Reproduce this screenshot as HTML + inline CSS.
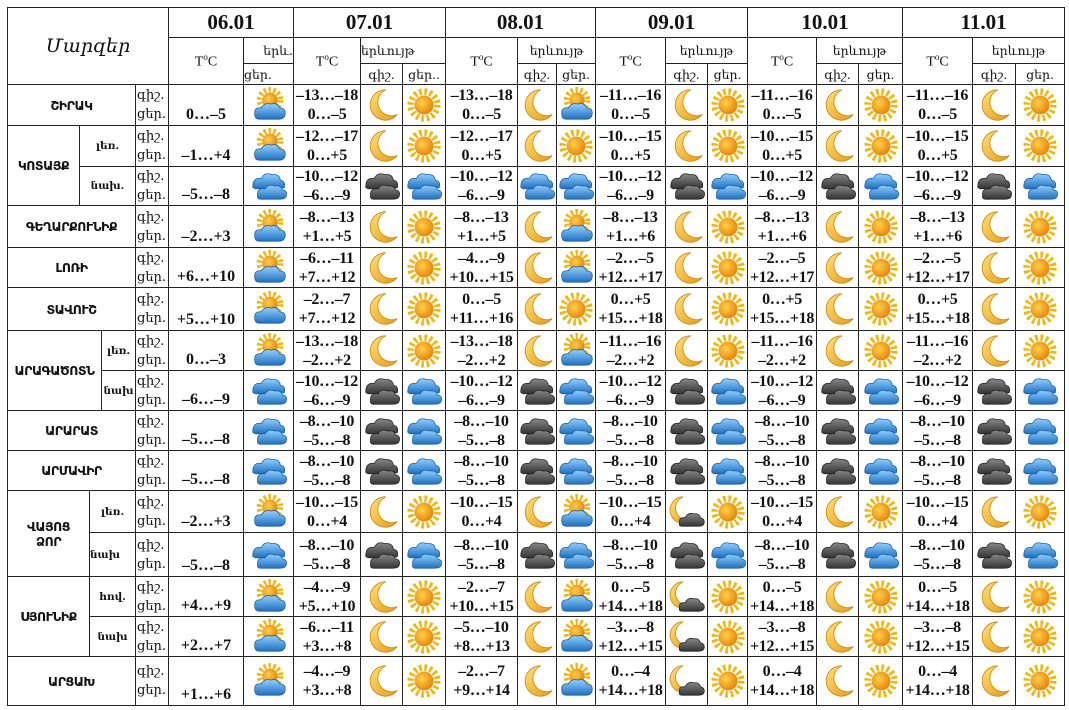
<!DOCTYPE html>
<html><head><meta charset="utf-8">
<style>
html,body{margin:0;padding:0;background:#fff;width:1069px;height:710px;overflow:hidden}
table{position:absolute;left:7px;top:7px;border-collapse:collapse;table-layout:fixed;width:1058px;font-family:"Liberation Serif","DejaVu Serif",serif;color:#111}
td{border:1px solid #222;padding:0;text-align:center;vertical-align:middle;overflow:hidden;white-space:nowrap}
.d{font-size:21px;font-weight:bold}
.h{font-size:14px}
.hs{font-size:12.5px;font-family:"DejaVu Serif",serif}
.m{font-size:19px;font-weight:bold;font-style:italic;font-family:"DejaVu Serif",serif}
.r{font-size:12.5px;font-weight:bold;font-family:"DejaVu Sans",sans-serif;letter-spacing:-0.5px}
.s{font-size:10.5px;font-weight:bold;font-family:"DejaVu Serif",serif}
.l{font-size:13px;text-align:left;line-height:19px;font-family:"DejaVu Serif",serif;padding-left:1px}
.t{font-size:16px;font-weight:bold;line-height:19px;letter-spacing:-0.3px}
.t1{font-size:16px;font-weight:bold;vertical-align:bottom;padding-bottom:1px}
.i svg{width:38px;height:38px;display:block;margin:auto}
</style></head><body>
<svg width="0" height="0" style="position:absolute">
<defs>
<radialGradient id="gs" cx="0.4" cy="0.4" r="0.7"><stop offset="0" stop-color="#ffd04a"/><stop offset="1" stop-color="#e67a00"/></radialGradient>
<linearGradient id="gm" x1="0" y1="0" x2="1" y2="1"><stop offset="0" stop-color="#ffe27a"/><stop offset="1" stop-color="#e79a10"/></linearGradient>
<linearGradient id="gc" x1="0" y1="0" x2="0" y2="1"><stop offset="0" stop-color="#8fd0ff"/><stop offset="1" stop-color="#1f6fc0"/></linearGradient>
<linearGradient id="gd" x1="0" y1="0" x2="0" y2="1"><stop offset="0" stop-color="#888"/><stop offset="1" stop-color="#333"/></linearGradient>
<symbol id="sun" viewBox="0 0 40 40"><circle cx="20" cy="20" r="14" fill="none" stroke="#f5b400" stroke-width="7" stroke-dasharray="2.6 2.9"/><circle cx="20" cy="20" r="10" fill="url(#gs)"/></symbol>
<symbol id="moon" viewBox="0 0 40 40"><path d="M24 4 A16 16 0 1 0 36 30 A13 13 0 1 1 24 4Z" fill="url(#gm)" stroke="#c98400" stroke-width="0.8"/></symbol>
<symbol id="cl" viewBox="0 0 40 40"><g fill="url(#gc)" stroke="#1a5fa8" stroke-width="0.8"><path d="M3 20 Q3 11 12 12 Q15 5 23 8 Q31 7 32 14 Q38 15 36 22 L6 23 Q2 22 3 20Z"/><path d="M8 30 Q7 22 16 23 Q19 17 26 20 Q33 19 34 24 Q40 25 38 31 Q37 34 30 34 L12 34 Q7 34 8 30Z"/></g></symbol>
<symbol id="dk" viewBox="0 0 40 40"><g fill="url(#gd)" stroke="#222" stroke-width="0.8"><path d="M3 20 Q3 11 12 12 Q15 5 23 8 Q31 7 32 14 Q38 15 36 22 L6 23 Q2 22 3 20Z"/><path d="M8 30 Q7 22 16 23 Q19 17 26 20 Q33 19 34 24 Q40 25 38 31 Q37 34 30 34 L12 34 Q7 34 8 30Z"/></g></symbol>
<symbol id="pc" viewBox="0 0 40 40"><circle cx="21" cy="15" r="11" fill="none" stroke="#f5b400" stroke-width="6" stroke-dasharray="2.4 2.6"/><circle cx="21" cy="15" r="8" fill="url(#gs)"/><path d="M5 30 Q4 22 12 23 Q15 17 22 19 Q29 17 31 23 Q38 23 37 30 Q36 35 30 35 L10 35 Q5 35 5 30Z" fill="url(#gc)" stroke="#1a5fa8" stroke-width="0.8"/></symbol>
<symbol id="mc" viewBox="0 0 40 40"><path d="M16 4 A14 14 0 1 0 26 28 A11 11 0 1 1 16 4Z" fill="url(#gm)" stroke="#c98400" stroke-width="0.8"/><path d="M12 32 Q11 25 18 26 Q21 20 27 22 Q33 21 34 26 Q39 27 38 32 Q37 35 32 35 L15 35 Q11 35 12 32Z" fill="url(#gd)" stroke="#222" stroke-width="0.8"/></symbol>
</defs></svg>
<table>
<colgroup>
<col style="width:72px"><col style="width:10px"><col style="width:12px"><col style="width:34px"><col style="width:33px">
<col style="width:75px"><col style="width:50px">
<col style="width:67px"><col style="width:42px"><col style="width:43px">
<col style="width:72px"><col style="width:39px"><col style="width:39px">
<col style="width:70px"><col style="width:42px"><col style="width:40px">
<col style="width:69px"><col style="width:42px"><col style="width:44px">
<col style="width:70px"><col style="width:43px"><col style="width:49px">
</colgroup>
<tr style="height:30px"><td class="m" rowspan="3" colspan="5" style="font-weight:normal">Մարզեր</td><td class="d" colspan="2">06.01</td><td class="d" colspan="3">07.01</td><td class="d" colspan="3">08.01</td><td class="d" colspan="3">09.01</td><td class="d" colspan="3">10.01</td><td class="d" colspan="3">11.01</td></tr>
<tr style="height:26px"><td class="h" rowspan="2">T<sup style="font-size:9px">o</sup>C</td><td class="hs" style="text-align:right">երև.</td><td class="h" rowspan="2">T<sup style="font-size:9px">o</sup>C</td><td class="hs" colspan="2" style="text-align:left">երևույթ</td><td class="h" rowspan="2">T<sup style="font-size:9px">o</sup>C</td><td class="hs" colspan="2">երևույթ</td><td class="h" rowspan="2">T<sup style="font-size:9px">o</sup>C</td><td class="hs" colspan="2">երևույթ</td><td class="h" rowspan="2">T<sup style="font-size:9px">o</sup>C</td><td class="hs" colspan="2">երևույթ</td><td class="h" rowspan="2">T<sup style="font-size:9px">o</sup>C</td><td class="hs" colspan="2">երևույթ</td></tr>
<tr style="height:21px"><td class="hs" style="text-align:left">ցեր.</td><td class="hs">գիշ.</td><td class="hs">ցեր..</td><td class="hs">գիշ.</td><td class="hs">ցեր.</td><td class="hs">գիշ.</td><td class="hs">ցեր.</td><td class="hs">գիշ.</td><td class="hs">ցեր.</td><td class="hs">գիշ.</td><td class="hs">ցեր.</td></tr>

<tr style="height:41px"><td class="r" colspan="4">ՇԻՐԱԿ</td><td class="l">գիշ.<br>ցեր.</td><td class="t1">0…–5</td><td class="i"><svg><use href="#pc"/></svg></td><td class="t">–13…–18<br>0…–5</td><td class="i"><svg><use href="#moon"/></svg></td><td class="i"><svg><use href="#sun"/></svg></td><td class="t">–13…–18<br>0…–5</td><td class="i"><svg><use href="#moon"/></svg></td><td class="i"><svg><use href="#pc"/></svg></td><td class="t">–11…–16<br>0…–5</td><td class="i"><svg><use href="#moon"/></svg></td><td class="i"><svg><use href="#sun"/></svg></td><td class="t">–11…–16<br>0…–5</td><td class="i"><svg><use href="#moon"/></svg></td><td class="i"><svg><use href="#sun"/></svg></td><td class="t">–11…–16<br>0…–5</td><td class="i"><svg><use href="#moon"/></svg></td><td class="i"><svg><use href="#sun"/></svg></td></tr>

<tr style="height:41px"><td class="r" rowspan="2">ԿՈՏԱՅՔ</td><td class="s" colspan="3">լեռ.</td><td class="l">գիշ.<br>ցեր.</td><td class="t1">–1…+4</td><td class="i"><svg><use href="#pc"/></svg></td><td class="t">–12…–17<br>0…+5</td><td class="i"><svg><use href="#moon"/></svg></td><td class="i"><svg><use href="#sun"/></svg></td><td class="t">–12…–17<br>0…+5</td><td class="i"><svg><use href="#moon"/></svg></td><td class="i"><svg><use href="#sun"/></svg></td><td class="t">–10…–15<br>0…+5</td><td class="i"><svg><use href="#moon"/></svg></td><td class="i"><svg><use href="#sun"/></svg></td><td class="t">–10…–15<br>0…+5</td><td class="i"><svg><use href="#moon"/></svg></td><td class="i"><svg><use href="#sun"/></svg></td><td class="t">–10…–15<br>0…+5</td><td class="i"><svg><use href="#moon"/></svg></td><td class="i"><svg><use href="#sun"/></svg></td></tr>
<tr style="height:39px"><td class="s" colspan="3">նախ.</td><td class="l">գիշ.<br>ցեր.</td><td class="t1">–5…–8</td><td class="i"><svg><use href="#cl"/></svg></td><td class="t">–10…–12<br>–6…–9</td><td class="i"><svg><use href="#dk"/></svg></td><td class="i"><svg><use href="#cl"/></svg></td><td class="t">–10…–12<br>–6…–9</td><td class="i"><svg><use href="#cl"/></svg></td><td class="i"><svg><use href="#cl"/></svg></td><td class="t">–10…–12<br>–6…–9</td><td class="i"><svg><use href="#dk"/></svg></td><td class="i"><svg><use href="#cl"/></svg></td><td class="t">–10…–12<br>–6…–9</td><td class="i"><svg><use href="#dk"/></svg></td><td class="i"><svg><use href="#cl"/></svg></td><td class="t">–10…–12<br>–6…–9</td><td class="i"><svg><use href="#dk"/></svg></td><td class="i"><svg><use href="#cl"/></svg></td></tr>

<tr style="height:42px"><td class="r" colspan="4">ԳԵՂԱՐՔՈՒՆԻՔ</td><td class="l">գիշ.<br>ցեր.</td><td class="t1">–2…+3</td><td class="i"><svg><use href="#pc"/></svg></td><td class="t">–8…–13<br>+1…+5</td><td class="i"><svg><use href="#moon"/></svg></td><td class="i"><svg><use href="#sun"/></svg></td><td class="t">–8…–13<br>+1…+5</td><td class="i"><svg><use href="#moon"/></svg></td><td class="i"><svg><use href="#pc"/></svg></td><td class="t">–8…–13<br>+1…+6</td><td class="i"><svg><use href="#moon"/></svg></td><td class="i"><svg><use href="#sun"/></svg></td><td class="t">–8…–13<br>+1…+6</td><td class="i"><svg><use href="#moon"/></svg></td><td class="i"><svg><use href="#sun"/></svg></td><td class="t">–8…–13<br>+1…+6</td><td class="i"><svg><use href="#moon"/></svg></td><td class="i"><svg><use href="#sun"/></svg></td></tr>

<tr style="height:40px"><td class="r" colspan="4">ԼՈՌԻ</td><td class="l">գիշ.<br>ցեր.</td><td class="t1">+6…+10</td><td class="i"><svg><use href="#pc"/></svg></td><td class="t">–6…–11<br>+7…+12</td><td class="i"><svg><use href="#moon"/></svg></td><td class="i"><svg><use href="#sun"/></svg></td><td class="t">–4…–9<br>+10…+15</td><td class="i"><svg><use href="#moon"/></svg></td><td class="i"><svg><use href="#pc"/></svg></td><td class="t">–2…–5<br>+12…+17</td><td class="i"><svg><use href="#moon"/></svg></td><td class="i"><svg><use href="#sun"/></svg></td><td class="t">–2…–5<br>+12…+17</td><td class="i"><svg><use href="#moon"/></svg></td><td class="i"><svg><use href="#sun"/></svg></td><td class="t">–2…–5<br>+12…+17</td><td class="i"><svg><use href="#moon"/></svg></td><td class="i"><svg><use href="#sun"/></svg></td></tr>

<tr style="height:43px"><td class="r" colspan="4">ՏԱՎՈՒՇ</td><td class="l">գիշ.<br>ցեր.</td><td class="t1">+5…+10</td><td class="i"><svg><use href="#pc"/></svg></td><td class="t">–2…–7<br>+7…+12</td><td class="i"><svg><use href="#moon"/></svg></td><td class="i"><svg><use href="#sun"/></svg></td><td class="t">0…–5<br>+11…+16</td><td class="i"><svg><use href="#moon"/></svg></td><td class="i"><svg><use href="#sun"/></svg></td><td class="t">0…+5<br>+15…+18</td><td class="i"><svg><use href="#moon"/></svg></td><td class="i"><svg><use href="#sun"/></svg></td><td class="t">0…+5<br>+15…+18</td><td class="i"><svg><use href="#moon"/></svg></td><td class="i"><svg><use href="#sun"/></svg></td><td class="t">0…+5<br>+15…+18</td><td class="i"><svg><use href="#moon"/></svg></td><td class="i"><svg><use href="#sun"/></svg></td></tr>

<tr style="height:40px"><td class="r" rowspan="2" colspan="3">ԱՐԱԳԱԾՈՏՆ</td><td class="s">լեռ.</td><td class="l">գիշ.<br>ցեր.</td><td class="t1">0…–3</td><td class="i"><svg><use href="#pc"/></svg></td><td class="t">–13…–18<br>–2…+2</td><td class="i"><svg><use href="#moon"/></svg></td><td class="i"><svg><use href="#sun"/></svg></td><td class="t">–13…–18<br>–2…+2</td><td class="i"><svg><use href="#moon"/></svg></td><td class="i"><svg><use href="#pc"/></svg></td><td class="t">–11…–16<br>–2…+2</td><td class="i"><svg><use href="#moon"/></svg></td><td class="i"><svg><use href="#sun"/></svg></td><td class="t">–11…–16<br>–2…+2</td><td class="i"><svg><use href="#moon"/></svg></td><td class="i"><svg><use href="#sun"/></svg></td><td class="t">–11…–16<br>–2…+2</td><td class="i"><svg><use href="#moon"/></svg></td><td class="i"><svg><use href="#sun"/></svg></td></tr>
<tr style="height:40px"><td class="s">նախ</td><td class="l">գիշ.<br>ցեր.</td><td class="t1">–6…–9</td><td class="i"><svg><use href="#cl"/></svg></td><td class="t">–10…–12<br>–6…–9</td><td class="i"><svg><use href="#dk"/></svg></td><td class="i"><svg><use href="#cl"/></svg></td><td class="t">–10…–12<br>–6…–9</td><td class="i"><svg><use href="#dk"/></svg></td><td class="i"><svg><use href="#cl"/></svg></td><td class="t">–10…–12<br>–6…–9</td><td class="i"><svg><use href="#dk"/></svg></td><td class="i"><svg><use href="#cl"/></svg></td><td class="t">–10…–12<br>–6…–9</td><td class="i"><svg><use href="#dk"/></svg></td><td class="i"><svg><use href="#cl"/></svg></td><td class="t">–10…–12<br>–6…–9</td><td class="i"><svg><use href="#dk"/></svg></td><td class="i"><svg><use href="#cl"/></svg></td></tr>

<tr style="height:40px"><td class="r" colspan="4">ԱՐԱՐԱՏ</td><td class="l">գիշ.<br>ցեր.</td><td class="t1">–5…–8</td><td class="i"><svg><use href="#cl"/></svg></td><td class="t">–8…–10<br>–5…–8</td><td class="i"><svg><use href="#dk"/></svg></td><td class="i"><svg><use href="#cl"/></svg></td><td class="t">–8…–10<br>–5…–8</td><td class="i"><svg><use href="#dk"/></svg></td><td class="i"><svg><use href="#cl"/></svg></td><td class="t">–8…–10<br>–5…–8</td><td class="i"><svg><use href="#dk"/></svg></td><td class="i"><svg><use href="#cl"/></svg></td><td class="t">–8…–10<br>–5…–8</td><td class="i"><svg><use href="#dk"/></svg></td><td class="i"><svg><use href="#cl"/></svg></td><td class="t">–8…–10<br>–5…–8</td><td class="i"><svg><use href="#dk"/></svg></td><td class="i"><svg><use href="#cl"/></svg></td></tr>

<tr style="height:40px"><td class="r" colspan="4">ԱՐՄԱՎԻՐ</td><td class="l">գիշ.<br>ցեր.</td><td class="t1">–5…–8</td><td class="i"><svg><use href="#cl"/></svg></td><td class="t">–8…–10<br>–5…–8</td><td class="i"><svg><use href="#dk"/></svg></td><td class="i"><svg><use href="#cl"/></svg></td><td class="t">–8…–10<br>–5…–8</td><td class="i"><svg><use href="#dk"/></svg></td><td class="i"><svg><use href="#cl"/></svg></td><td class="t">–8…–10<br>–5…–8</td><td class="i"><svg><use href="#dk"/></svg></td><td class="i"><svg><use href="#cl"/></svg></td><td class="t">–8…–10<br>–5…–8</td><td class="i"><svg><use href="#dk"/></svg></td><td class="i"><svg><use href="#cl"/></svg></td><td class="t">–8…–10<br>–5…–8</td><td class="i"><svg><use href="#dk"/></svg></td><td class="i"><svg><use href="#cl"/></svg></td></tr>

<tr style="height:42px"><td class="r" rowspan="2" colspan="2">ՎԱՅՈՑ<br>ՁՈՐ</td><td class="s" colspan="2">լեռ.</td><td class="l">գիշ.<br>ցեր.</td><td class="t1">–2…+3</td><td class="i"><svg><use href="#pc"/></svg></td><td class="t">–10…–15<br>0…+4</td><td class="i"><svg><use href="#moon"/></svg></td><td class="i"><svg><use href="#sun"/></svg></td><td class="t">–10…–15<br>0…+4</td><td class="i"><svg><use href="#moon"/></svg></td><td class="i"><svg><use href="#pc"/></svg></td><td class="t">–10…–15<br>0…+4</td><td class="i"><svg><use href="#mc"/></svg></td><td class="i"><svg><use href="#sun"/></svg></td><td class="t">–10…–15<br>0…+4</td><td class="i"><svg><use href="#moon"/></svg></td><td class="i"><svg><use href="#sun"/></svg></td><td class="t">–10…–15<br>0…+4</td><td class="i"><svg><use href="#moon"/></svg></td><td class="i"><svg><use href="#sun"/></svg></td></tr>
<tr style="height:44px"><td class="s" colspan="2" style="text-align:left">նախ</td><td class="l">գիշ.<br>ցեր.</td><td class="t1">–5…–8</td><td class="i"><svg><use href="#cl"/></svg></td><td class="t">–8…–10<br>–5…–8</td><td class="i"><svg><use href="#dk"/></svg></td><td class="i"><svg><use href="#cl"/></svg></td><td class="t">–8…–10<br>–5…–8</td><td class="i"><svg><use href="#dk"/></svg></td><td class="i"><svg><use href="#cl"/></svg></td><td class="t">–8…–10<br>–5…–8</td><td class="i"><svg><use href="#dk"/></svg></td><td class="i"><svg><use href="#cl"/></svg></td><td class="t">–8…–10<br>–5…–8</td><td class="i"><svg><use href="#dk"/></svg></td><td class="i"><svg><use href="#cl"/></svg></td><td class="t">–8…–10<br>–5…–8</td><td class="i"><svg><use href="#dk"/></svg></td><td class="i"><svg><use href="#cl"/></svg></td></tr>

<tr style="height:40px"><td class="r" rowspan="2" colspan="2">ՍՅՈՒՆԻՔ</td><td class="s" colspan="2">հով.</td><td class="l">գիշ.<br>ցեր.</td><td class="t1">+4…+9</td><td class="i"><svg><use href="#pc"/></svg></td><td class="t">–4…–9<br>+5…+10</td><td class="i"><svg><use href="#moon"/></svg></td><td class="i"><svg><use href="#sun"/></svg></td><td class="t">–2…–7<br>+10…+15</td><td class="i"><svg><use href="#moon"/></svg></td><td class="i"><svg><use href="#pc"/></svg></td><td class="t">0…–5<br>+14…+18</td><td class="i"><svg><use href="#mc"/></svg></td><td class="i"><svg><use href="#sun"/></svg></td><td class="t">0…–5<br>+14…+18</td><td class="i"><svg><use href="#moon"/></svg></td><td class="i"><svg><use href="#sun"/></svg></td><td class="t">0…–5<br>+14…+18</td><td class="i"><svg><use href="#moon"/></svg></td><td class="i"><svg><use href="#sun"/></svg></td></tr>
<tr style="height:40px"><td class="s" colspan="2">նախ</td><td class="l">գիշ.<br>ցեր.</td><td class="t1">+2…+7</td><td class="i"><svg><use href="#pc"/></svg></td><td class="t">–6…–11<br>+3…+8</td><td class="i"><svg><use href="#moon"/></svg></td><td class="i"><svg><use href="#sun"/></svg></td><td class="t">–5…–10<br>+8…+13</td><td class="i"><svg><use href="#moon"/></svg></td><td class="i"><svg><use href="#pc"/></svg></td><td class="t">–3…–8<br>+12…+15</td><td class="i"><svg><use href="#mc"/></svg></td><td class="i"><svg><use href="#sun"/></svg></td><td class="t">–3…–8<br>+12…+15</td><td class="i"><svg><use href="#moon"/></svg></td><td class="i"><svg><use href="#sun"/></svg></td><td class="t">–3…–8<br>+12…+15</td><td class="i"><svg><use href="#moon"/></svg></td><td class="i"><svg><use href="#sun"/></svg></td></tr>

<tr style="height:49px"><td class="r" colspan="4">ԱՐՑԱԽ</td><td class="l">գիշ.<br>ցեր.</td><td class="t1">+1…+6</td><td class="i"><svg><use href="#pc"/></svg></td><td class="t">–4…–9<br>+3…+8</td><td class="i"><svg><use href="#moon"/></svg></td><td class="i"><svg><use href="#sun"/></svg></td><td class="t">–2…–7<br>+9…+14</td><td class="i"><svg><use href="#moon"/></svg></td><td class="i"><svg><use href="#pc"/></svg></td><td class="t">0…–4<br>+14…+18</td><td class="i"><svg><use href="#mc"/></svg></td><td class="i"><svg><use href="#sun"/></svg></td><td class="t">0…–4<br>+14…+18</td><td class="i"><svg><use href="#moon"/></svg></td><td class="i"><svg><use href="#sun"/></svg></td><td class="t">0…–4<br>+14…+18</td><td class="i"><svg><use href="#moon"/></svg></td><td class="i"><svg><use href="#sun"/></svg></td></tr>
</table>
</body></html>
